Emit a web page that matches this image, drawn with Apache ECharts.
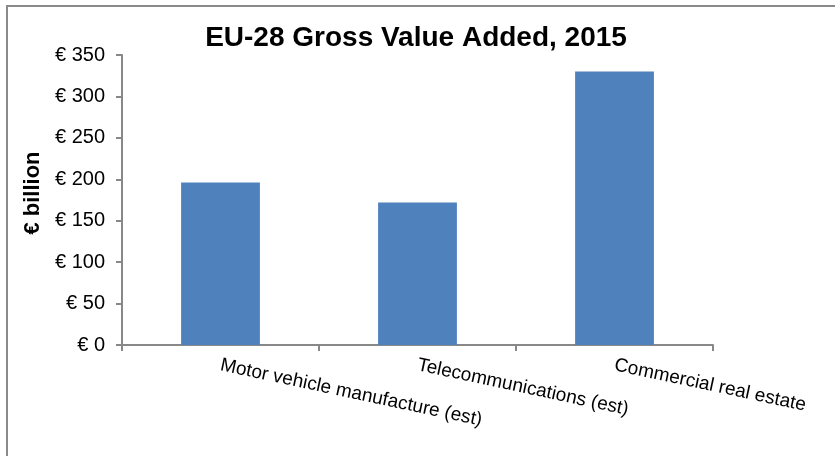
<!DOCTYPE html>
<html>
<head>
<meta charset="utf-8">
<script src="https://cdn.jsdelivr.net/npm/echarts@6/dist/echarts.min.js"></script>
<style>html,body{margin:0;padding:0;background:#fff}#c{width:835px;height:456px}</style>
</head>
<body>
<div id="c"></div>
<script>
const titleText = 'EU-28 Gross Value Added, 2015';
const yAxisName = '€ billion';
const categories = ['Motor vehicle manufacture (est)', 'Telecommunications (est)', 'Commercial real estate'];
const values = [196, 172, 330];
const yTicks = [0, 50, 100, 150, 200, 250, 300, 350];

const chart = echarts.init(document.getElementById('c'), null, {renderer: 'canvas'});
const font = 'Liberation Sans, Arial, sans-serif';
chart.setOption({
  animation: false,
  backgroundColor: '#fff',
  title: {
    text: titleText, left: 411, top: 19, textAlign: 'center',
    textStyle: {fontFamily: font, fontSize: 28, fontWeight: 'bold', color: '#000'}
  },
  graphic: [
    {type: 'line', shape: {x1: 6, y1: 6, x2: 835, y2: 6}, style: {stroke: '#8a8a8a', lineWidth: 2}},
    {type: 'line', shape: {x1: 7, y1: 6, x2: 7, y2: 456}, style: {stroke: '#8a8a8a', lineWidth: 2}}
  ],
  grid: {left: 122, right: 122, top: 55, bottom: 111, containLabel: false},
  xAxis: {
    type: 'category', data: categories, boundaryGap: true,
    axisLine: {lineStyle: {color: '#888', width: 2}},
    axisTick: {show: true, length: 6, lineStyle: {color: '#888', width: 2}},
    axisLabel: {rotate: -12, margin: 20, interval: 0, fontFamily: font, fontSize: 19, color: '#000'}
  },
  yAxis: {
    type: 'value', min: yTicks[0], max: yTicks[yTicks.length - 1], interval: 50,
    name: yAxisName, nameLocation: 'middle', nameGap: 78,
    nameTextStyle: {fontFamily: font, fontSize: 22, fontWeight: 'bold', color: '#000', padding: [0, 0, 0, 14]},
    axisLine: {show: true, lineStyle: {color: '#888', width: 2}},
    axisTick: {show: true, length: 6, lineStyle: {color: '#888', width: 2}},
    splitLine: {show: false},
    axisLabel: {margin: 17, fontFamily: font, fontSize: 20, color: '#000', formatter: v => '€ ' + v}
  },
  series: [{
    type: 'bar', data: values, barWidth: '40%',
    itemStyle: {color: '#4F81BD'}
  }]
});
</script>
</body>
</html>
